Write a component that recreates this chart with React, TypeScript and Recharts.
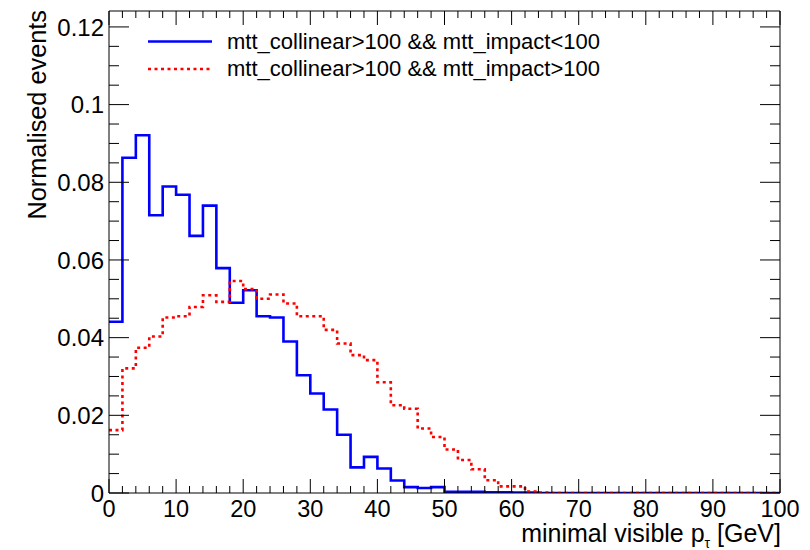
import { ComposedChart, Line, XAxis, YAxis } from 'recharts'

// histogram bin edges in GeV (50 bins of width 2)
const binEdges = [
  0, 2, 4, 6, 8, 10, 12, 14, 16, 18, 20, 22, 24, 26, 28, 30, 32, 34, 36, 38, 40, 42, 44, 46, 48, 50,
  52, 54, 56, 58, 60, 62, 64, 66, 68, 70, 72, 74, 76, 78, 80, 82, 84, 86, 88, 90, 92, 94, 96, 98, 100,
]

// mtt_collinear>100 && mtt_impact<100
const impactLow = [
  0.0441, 0.0863, 0.0921, 0.0715, 0.0789, 0.0768, 0.0662, 0.074, 0.0579, 0.049,
  0.0522, 0.0455, 0.0452, 0.039, 0.0303, 0.0256, 0.0215, 0.015, 0.0066, 0.0093,
  0.0063, 0.0032, 0.0015, 0.0013, 0.0015, 0.0003, 0.0003, 0.0003, 0.0002, 0.0002,
  0.0001, 0.0001, 0, 0, 0, 0, 0, 0, 0, 0,
  0, 0, 0, 0, 0, 0, 0, 0, 0, 0,
]

// mtt_collinear>100 && mtt_impact>100
const impactHigh = [
  0.0162, 0.0321, 0.0374, 0.0403, 0.0452, 0.0455, 0.0479, 0.0509, 0.0492, 0.0546,
  0.0525, 0.05, 0.0511, 0.0488, 0.0455, 0.0455, 0.042, 0.0385, 0.0355, 0.0342,
  0.0285, 0.0226, 0.0217, 0.0166, 0.0144, 0.0112, 0.0085, 0.0061, 0.0033, 0.0017,
  0.0017, 0.0004, 0.0001, 0, 0, 0, 0, 0, 0, 0,
  0, 0, 0, 0, 0, 0, 0, 0, 0, 0,
]

const xMajor = [0, 10, 20, 30, 40, 50, 60, 70, 80, 90, 100]
const yTicks = [
  0, 0.005, 0.01, 0.015, 0.02, 0.025, 0.03, 0.035, 0.04, 0.045, 0.05, 0.055, 0.06,
  0.065, 0.07, 0.075, 0.08, 0.085, 0.09, 0.095, 0.1, 0.105, 0.11, 0.115, 0.12,
]
const yMajor = [0, 0.02, 0.04, 0.06, 0.08, 0.1, 0.12]
const yLabels = ['0', '0.02', '0.04', '0.06', '0.08', '0.1', '0.12']

const legendLabels = ['mtt_collinear>100 && mtt_impact<100', 'mtt_collinear>100 && mtt_impact>100']

const FONT = '"Liberation Sans", Arial, Helvetica, sans-serif'
const TICK = '#000'

// last edge repeats the final bin so stepAfter closes the histogram at 100
const data = binEdges.map((x, i) => ({
  x,
  low: impactLow[Math.min(i, impactLow.length - 1)],
  high: impactHigh[Math.min(i, impactHigh.length - 1)],
}))

type Side = 'bottom' | 'top' | 'left' | 'right'

function makeTick(side: Side, withLabel: boolean) {
  return function Tick(props: any) {
    const { x, y, payload } = props
    const v = payload.value as number
    const yIdx = yMajor.findIndex((m) => Math.abs(m - v) < 1e-9)
    const major = side === 'bottom' || side === 'top' ? xMajor.includes(v) : yIdx >= 0
    if (side === 'bottom' || side === 'top') {
      const len = major ? 14 : 7
      const dir = side === 'bottom' ? -1 : 1
      return (
        <g>
          <line x1={x} y1={y} x2={x} y2={y + dir * len} stroke={TICK} strokeWidth={1} />
          {withLabel && major && (
            <text x={x} y={y + 24} textAnchor="middle" fontSize={23.5} fontFamily={FONT} fill="#000">
              {v}
            </text>
          )}
        </g>
      )
    }
    const len = major ? 20 : 10
    const dir = side === 'left' ? 1 : -1
    return (
      <g>
        <line x1={x} y1={y} x2={x + dir * len} y2={y} stroke={TICK} strokeWidth={1} />
        {withLabel && major && (
          <text
            x={x - 5}
            y={y}
            dy="0.36em"
            textAnchor="end"
            fontSize={24}
            fontFamily={FONT}
            fill="#000"
          >
            {yLabels[yIdx]}
          </text>
        )}
      </g>
    )
  }
}

export default function App() {
  return (
    <div style={{ position: 'absolute', left: 0, top: 0, width: 810, height: 550, background: '#fff' }}>
      <ComposedChart
        width={810}
        height={550}
        data={data}
        margin={{ top: 10, right: 29, bottom: 56, left: 108 }}
      >
        <XAxis
          xAxisId="bottom"
          dataKey="x"
          type="number"
          domain={[0, 100]}
          ticks={binEdges}
          interval={0}
          height={1}
          tickSize={0}
          tickMargin={0}
          tickLine={false}
          axisLine={{ stroke: '#000', strokeWidth: 1 }}
          tick={makeTick('bottom', true)}
        />
        <XAxis
          xAxisId="top"
          orientation="top"
          dataKey="x"
          type="number"
          domain={[0, 100]}
          ticks={binEdges}
          interval={0}
          height={1}
          tickSize={0}
          tickMargin={0}
          tickLine={false}
          axisLine={{ stroke: '#000', strokeWidth: 1 }}
          tick={makeTick('top', false)}
        />
        <YAxis
          yAxisId="left"
          type="number"
          domain={[0, 0.1241]}
          allowDataOverflow
          ticks={yTicks}
          interval={0}
          width={1}
          tickSize={0}
          tickMargin={0}
          tickLine={false}
          axisLine={{ stroke: '#000', strokeWidth: 1 }}
          tick={makeTick('left', true)}
        />
        <YAxis
          yAxisId="right"
          orientation="right"
          type="number"
          domain={[0, 0.1241]}
          allowDataOverflow
          ticks={yTicks}
          interval={0}
          width={1}
          tickSize={0}
          tickMargin={0}
          tickLine={false}
          axisLine={{ stroke: '#000', strokeWidth: 1 }}
          tick={makeTick('right', false)}
        />
        <Line
          xAxisId="bottom"
          yAxisId="left"
          type="stepAfter"
          dataKey="low"
          stroke="#0000ff"
          strokeWidth={2.6}
          dot={false}
          activeDot={false}
          isAnimationActive={false}
        />
        <Line
          xAxisId="bottom"
          yAxisId="left"
          type="stepAfter"
          dataKey="high"
          stroke="#ff0000"
          strokeWidth={2.6}
          strokeDasharray="3 3.5"
          dot={false}
          activeDot={false}
          isAnimationActive={false}
        />

        {/* legend, ROOT style, top left inside the frame */}
        <g fontFamily={FONT} fontSize={22} fill="#000">
          <line x1={148} y1={41.5} x2={212} y2={41.5} stroke="#0000ff" strokeWidth={2.6} />
          <text x={227} y={48.5}>{legendLabels[0]}</text>
          <line
            x1={148}
            y1={69}
            x2={212}
            y2={69}
            stroke="#ff0000"
            strokeWidth={2.6}
            strokeDasharray="3 3.5"
          />
          <text x={227} y={76}>{legendLabels[1]}</text>
        </g>

        {/* axis titles */}
        <text x={781} y={542} textAnchor="end" fontFamily={FONT} fontSize={25} fill="#000">
          minimal visible p
          <tspan fontSize={14} dy={6}>τ</tspan>
          <tspan dy={-6}> [GeV]</tspan>
        </text>
        <text
          x={46}
          y={10}
          textAnchor="end"
          transform="rotate(-90, 46, 10)"
          fontFamily={FONT}
          fontSize={25.3}
          fill="#000"
        >
          Normalised events
        </text>
      </ComposedChart>
    </div>
  )
}
